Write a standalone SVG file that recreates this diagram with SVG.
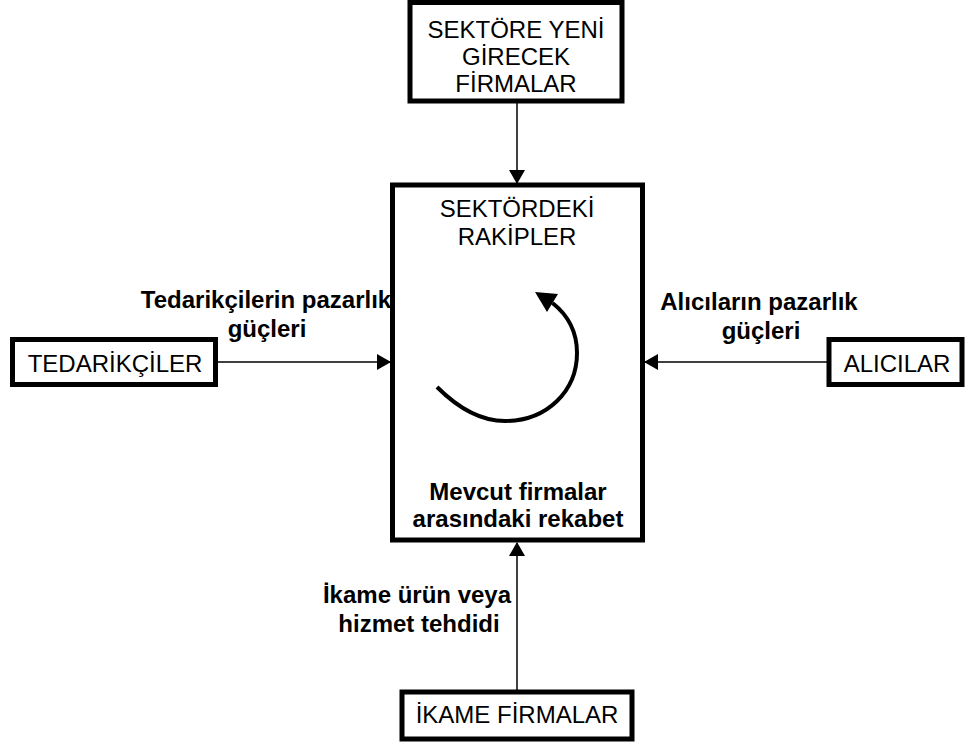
<svg xmlns="http://www.w3.org/2000/svg" width="968" height="744" viewBox="0 0 968 744">
  <style>
    .box { fill: #ffffff; stroke: #000000; stroke-width: 5; }
    .lbl { font-family: "Liberation Sans", Arial, sans-serif; font-size: 24px; fill: #000000; text-anchor: middle; }
    .b { font-weight: bold; }
    .conn { stroke: #000000; stroke-width: 1.5; fill: none; }
  </style>
  <defs>
    <marker id="arrow" markerUnits="userSpaceOnUse" markerWidth="14" markerHeight="16" viewBox="0 0 14 16" refX="13" refY="8" orient="auto">
      <path d="M0,0 L14,8 L0,16 Z" fill="#000000"/>
    </marker>
  </defs>

  <rect width="968" height="744" fill="#ffffff"/>

  <!-- connectors -->
  <g id="connectors">
    <line class="conn" x1="517" y1="103" x2="517" y2="183" marker-end="url(#arrow)"/>
    <line class="conn" x1="218" y1="362" x2="390" y2="362" marker-end="url(#arrow)"/>
    <line class="conn" x1="827" y1="362" x2="645" y2="362" marker-end="url(#arrow)"/>
    <line class="conn" x1="517" y1="690" x2="517" y2="543" marker-end="url(#arrow)"/>
  </g>

  <!-- potential entrants -->
  <g id="entrants">
    <rect class="box" x="410" y="2.5" width="212" height="98.5"/>
    <text class="lbl" x="516" y="38">SEKTÖRE YENİ</text>
    <text class="lbl" x="516" y="65">GİRECEK</text>
    <text class="lbl" x="516" y="92">FİRMALAR</text>
  </g>

  <!-- industry competitors -->
  <g id="rivals">
    <rect class="box" x="392.5" y="185" width="250" height="355"/>
    <text class="lbl" x="517" y="217">SEKTÖRDEKİ</text>
    <text class="lbl" x="517" y="245">RAKİPLER</text>
    <path d="M437,387 C455,405 478,421 505,421 C547,421 577,391 577,353 C577,334 569,316 552.5,303" fill="none" stroke="#000000" stroke-width="4"/>
    <polygon points="535,292 558,294 547,312" fill="#000000"/>
    <text class="lbl b" x="518" y="500">Mevcut firmalar</text>
    <text class="lbl b" x="518" y="527">arasındaki rekabet</text>
  </g>

  <!-- suppliers -->
  <g id="suppliers">
    <rect class="box" x="12.5" y="339.5" width="203" height="45"/>
    <text class="lbl" x="115" y="372">TEDARİKÇİLER</text>
  </g>
  <g id="supplier-power">
    <text class="lbl b" x="266" y="308">Tedarikçilerin pazarlık</text>
    <text class="lbl b" x="267" y="337">güçleri</text>
  </g>

  <!-- buyers -->
  <g id="buyers">
    <rect class="box" x="829" y="339.5" width="133" height="45"/>
    <text class="lbl" x="897" y="372">ALICILAR</text>
  </g>
  <g id="buyer-power">
    <text class="lbl b" x="759" y="310">Alıcıların pazarlık</text>
    <text class="lbl b" x="761" y="339">güçleri</text>
  </g>

  <!-- substitutes -->
  <g id="substitutes">
    <rect class="box" x="402" y="692" width="230" height="47"/>
    <text class="lbl" x="517" y="723">İKAME FİRMALAR</text>
  </g>
  <g id="substitute-threat">
    <text class="lbl b" x="417" y="603">İkame ürün veya</text>
    <text class="lbl b" x="419" y="632">hizmet tehdidi</text>
  </g>
</svg>
